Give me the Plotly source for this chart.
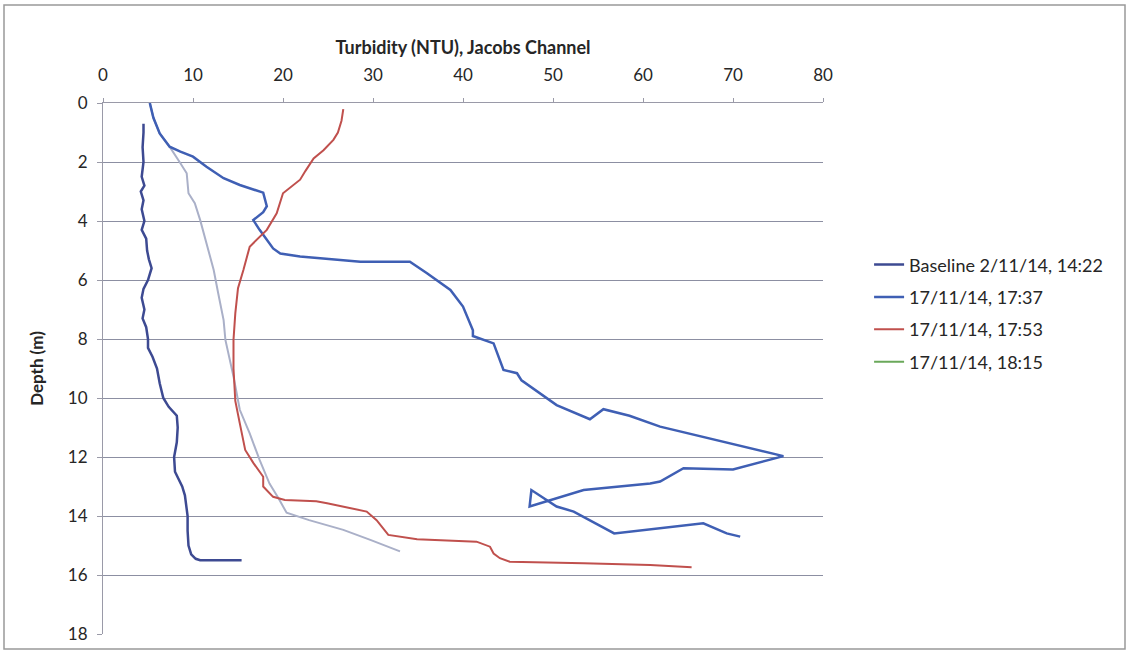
import plotly.graph_objects as go

# ---- data (turbidity NTU vs depth m) ----
base_depth = [0.7, 1.0, 1.5, 2.0, 2.5, 2.8, 3.0, 3.3, 3.6, 4.0, 4.3, 4.6, 5.0, 5.3, 5.6, 6.0, 6.3, 6.6,
              7.0, 7.3, 7.6, 8.0, 8.3, 8.6, 9.0, 9.5, 10.0, 10.3, 10.6, 11.0, 11.5, 12.0, 12.5, 13.0,
              13.3, 13.6, 14.0, 14.5, 15.0, 15.3, 15.45, 15.5, 15.5]
base_ntu = [4.5, 4.5, 4.4, 4.5, 4.3, 4.6, 4.2, 4.5, 4.3, 4.6, 4.3, 4.8, 4.9, 5.1, 5.4, 5.0, 4.5, 4.3,
            4.6, 4.4, 4.8, 5.0, 5.0, 5.5, 6.0, 6.3, 6.7, 7.3, 8.2, 8.3, 8.2, 7.9, 8.0, 8.8,
            9.1, 9.2, 9.4, 9.4, 9.5, 9.8, 10.3, 10.8, 15.4]

s1737_depth = [0.0, 0.5, 1.03, 1.48, 1.65, 1.82, 2.16, 2.55, 2.78, 3.04, 3.5, 3.7, 3.97, 4.3, 4.93, 5.1,
               5.2, 5.38, 5.38, 5.77, 6.34, 6.9, 7.7, 7.9, 8.15, 9.05, 9.16, 9.4, 10.24, 10.72, 10.38,
               10.6, 10.97, 11.42, 11.97, 12.42, 12.38, 12.83, 12.9, 13.12, 13.68, 13.12, 13.68, 13.85,
               14.59, 14.25, 14.59, 14.7]
s1737_ntu = [5.2, 5.6, 6.3, 7.4, 8.6, 10.0, 11.5, 13.4, 15.2, 17.8, 18.2, 17.8, 16.7, 17.4, 18.9, 19.7,
             21.9, 28.6, 34.1, 36.0, 38.6, 40.0, 41.1, 41.1, 43.4, 44.5, 46.0, 46.5, 50.4, 54.1, 55.6,
             58.5, 61.9, 68.2, 75.6, 70.0, 64.5, 61.9, 60.8, 53.4, 47.4, 47.6, 50.4, 52.3,
             56.8, 66.7, 69.3, 70.8]

s1753_depth = [0.21, 0.6, 1.0, 1.25, 1.6, 1.88, 2.3, 2.6, 3.06, 3.74, 4.3, 4.87, 5.66, 6.28, 7.13, 8.03,
               9.0, 10.1, 10.86, 11.76, 12.2, 12.67, 13.0, 13.35, 13.46, 13.5, 13.57, 13.85, 14.14, 14.64,
               14.79, 14.87, 15.04, 15.27, 15.43, 15.55, 15.6, 15.66, 15.74]
s1753_ntu = [26.7, 26.5, 26.1, 25.6, 24.5, 23.4, 22.5, 21.9, 20.0, 19.3, 18.2, 16.3, 15.6, 15.0, 14.7, 14.5,
             14.5, 14.7, 15.2, 15.8, 16.7, 17.8, 17.8, 18.9, 20.2, 23.7, 24.9, 29.3, 30.4, 31.7,
             34.9, 41.5, 43.0, 43.4, 44.1, 45.2, 53.4, 60.8, 65.4]

s1815_depth = [0.0, 0.5, 1.03, 1.48, 2.04, 2.38, 3.06, 3.4, 3.97, 4.98, 5.66, 6.45, 7.36, 8.03, 9.27,
               10.4, 11.2, 12.1, 12.9, 13.4, 13.89, 14.14, 14.47, 14.81, 15.2]
s1815_ntu = [5.2, 5.6, 6.3, 7.4, 8.6, 9.3, 9.5, 10.2, 10.8, 11.7, 12.3, 12.8, 13.4, 13.6, 14.5,
             15.2, 16.3, 17.4, 18.5, 19.5, 20.4, 22.9, 26.7, 29.7, 33.0]

names = ["Baseline 2/11/14, 14:22", "17/11/14, 17:37", "17/11/14, 17:53", "17/11/14, 18:15"]
x_ticks = [0, 10, 20, 30, 40, 50, 60, 70, 80]
y_ticks = [0, 2, 4, 6, 8, 10, 12, 14, 16, 18]

FONT = "Lato, 'Open Sans', sans-serif"
TXT = "#262626"

fig = go.Figure()
# 18:15 drawn first (underneath), its legend entry is a separate green swatch
fig.add_trace(go.Scatter(x=s1815_ntu, y=s1815_depth, mode="lines", name=names[3], legendgroup="g4",
                         showlegend=False, line=dict(color="#aab0c8", width=2)))
fig.add_trace(go.Scatter(x=base_ntu, y=base_depth, mode="lines", name=names[0], legendgroup="g1",
                         legendrank=1, line=dict(color="#3d4a92", width=2.5)))
fig.add_trace(go.Scatter(x=s1737_ntu, y=s1737_depth, mode="lines", name=names[1], legendgroup="g2",
                         legendrank=2, line=dict(color="#3f5fb4", width=2.5)))
fig.add_trace(go.Scatter(x=s1753_ntu, y=s1753_depth, mode="lines", name=names[2], legendgroup="g3",
                         legendrank=3, line=dict(color="#c0504d", width=2)))
fig.add_trace(go.Scatter(x=[None], y=[None], mode="lines", name=names[3], legendgroup="g4",
                         legendrank=4, line=dict(color="#6aa85a", width=2)))

fig.update_layout(
    width=1129, height=653,
    margin=dict(l=103, r=306, t=103, b=19),
    paper_bgcolor="white", plot_bgcolor="white",
    font=dict(family=FONT, size=17, color=TXT),
    showlegend=True,
    legend=dict(x=1.064, y=0.73, xanchor="left", yanchor="top",
                font=dict(family=FONT, size=18, color=TXT),
                traceorder="grouped", tracegroupgap=6, bgcolor="rgba(0,0,0,0)"),
    xaxis=dict(side="top", range=[0, 80], tickvals=x_ticks, showgrid=False, zeroline=False,
               automargin=False,
               showline=True, linecolor="#9a9aa8", linewidth=1, ticks="outside", ticklen=4,
               tickcolor="#9a9aa8", ticklabelstandoff=10, tickfont=dict(size=17),
               title=dict(text="<b>Turbidity (NTU), Jacobs Channel</b>", standoff=4,
                          font=dict(family=FONT, size=18, color=TXT))),
    yaxis=dict(range=[18, 0], tickvals=y_ticks, showgrid=True, gridcolor="#8c8fa2", gridwidth=1,
               automargin=False,
               zeroline=False, showline=True, linecolor="#9a9aa8", linewidth=1, ticks="outside",
               ticklen=5, tickcolor="#9a9aa8", ticklabelstandoff=6, tickfont=dict(size=17),
               title=dict(text="<b>Depth (m)</b>", standoff=19,
                          font=dict(family=FONT, size=17, color=TXT))),
    shapes=[dict(type="rect", xref="paper", yref="paper",
                 x0=(4 - 103) / 720, x1=(1125 - 103) / 720,
                 y0=(634 - 649) / 531, y1=(634 - 5) / 531,
                 line=dict(color="#999999", width=1.5), fillcolor="rgba(0,0,0,0)", layer="below")],
)

fig.write_html("out.html", config={"displayModeBar": False},
               post_script="document.body.style.margin='0px';")
